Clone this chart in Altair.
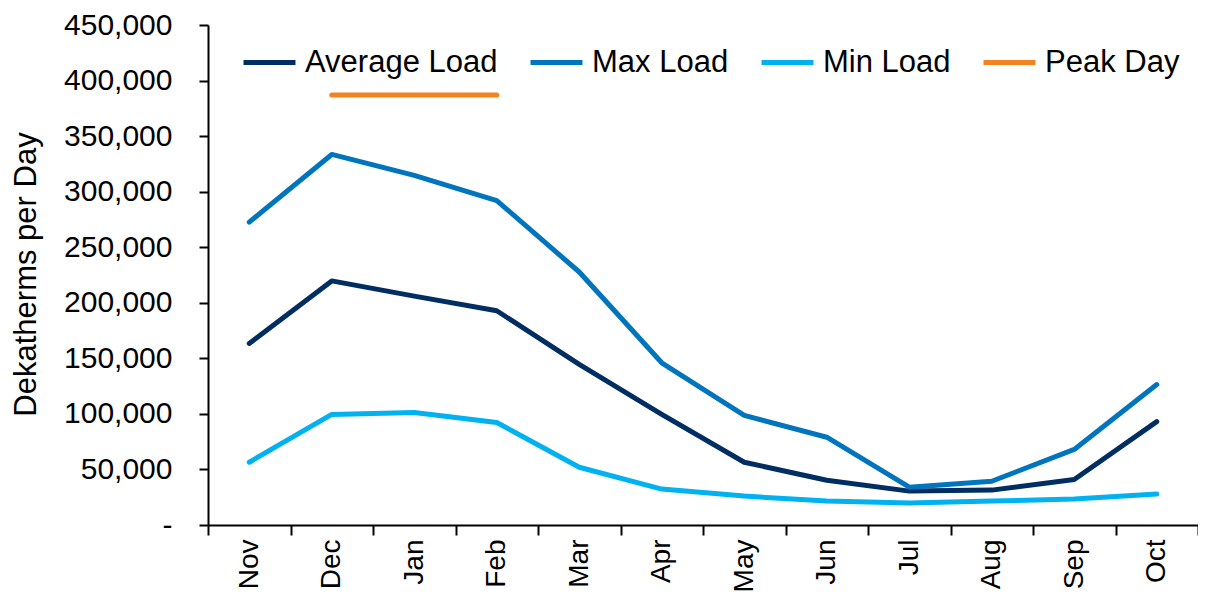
import altair as alt
import pandas as pd

months = ["Nov", "Dec", "Jan", "Feb", "Mar", "Apr", "May", "Jun", "Jul", "Aug", "Sep", "Oct"]
average_load = [163400, 219700, 206000, 192800, 144600, 99500, 56500, 40300, 30500, 31400, 41000, 93000]
max_load = [272600, 333500, 314600, 292000, 227700, 146000, 98600, 79000, 34000, 39400, 68000, 126400]
min_load = [56500, 99500, 101300, 92300, 52000, 32300, 26000, 21500, 19700, 21500, 23300, 27800]
peak_months = ["Dec", "Jan", "Feb"]
peak_day = [387000, 387000, 387000]

series_names = ["Average Load", "Max Load", "Min Load", "Peak Day"]
series_colors = ["#002D62", "#0074BD", "#00B2EF", "#F58220"]
y_ticks = [0, 50000, 100000, 150000, 200000, 250000, 300000, 350000, 400000, 450000]

rows = []
for name, vals in [("Average Load", average_load), ("Max Load", max_load), ("Min Load", min_load)]:
    for m, v in zip(months, vals):
        rows.append({"series": name, "month": m, "value": v})
for m, v in zip(peak_months, peak_day):
    rows.append({"series": "Peak Day", "month": m, "value": v})
df = pd.DataFrame(rows)

FONT = "Liberation Sans"

chart = alt.Chart(df).mark_line(strokeWidth=5, strokeCap="round", strokeJoin="round").encode(
    x=alt.X("month:N", sort=months,
            scale=alt.Scale(type="band", domain=months, paddingInner=0, paddingOuter=0),
            axis=alt.Axis(title=None, labelAngle=270, labelAlign="right", labelBaseline="middle",
                          labelFontSize=28, labelFont=FONT, labelColor="black", labelPadding=4,
                          tickBand="extent", tickSize=10, tickWidth=2, tickColor="black",
                          domainColor="black", domainWidth=2, grid=False)),
    y=alt.Y("value:Q", scale=alt.Scale(domain=[0, 450000], nice=False),
            axis=alt.Axis(title="Dekatherms per Day", values=y_ticks,
                          labelExpr="datum.value == 0 ? '-\u00a0\u00a0' : format(datum.value, ',')",
                          labelFontSize=30, labelFont=FONT, labelColor="black", labelPadding=27,
                          tickSize=9, tickWidth=2, tickColor="black",
                          domainColor="black", domainWidth=2, grid=False,
                          titleFont=FONT, titleFontSize=31, titleFontWeight="normal", titleColor="black",
                          titleAngle=270, titleX=-182, titleY=249, titleAlign="center",
                          titleBaseline="middle")),
    color=alt.Color("series:N",
                    scale=alt.Scale(domain=series_names, range=series_colors),
                    legend=alt.Legend(title=None, orient="none", direction="horizontal",
                                      legendX=33, legendY=9, symbolType="stroke",
                                      symbolSize=2700, symbolStrokeWidth=5,
                                      labelFontSize=31, labelFont=FONT, labelColor="black",
                                      labelLimit=0, labelOffset=7, columnPadding=22,
                                      gridAlign="none", padding=0, columns=4)),
).properties(
    width=990, height=500,
    autosize=alt.AutoSizeParams(type="none"),
    padding={"left": 200, "top": 17, "right": 0, "bottom": 66},
).configure_view(stroke=None)

chart.save("out.html", embed_options={"renderer": "svg", "actions": False})
